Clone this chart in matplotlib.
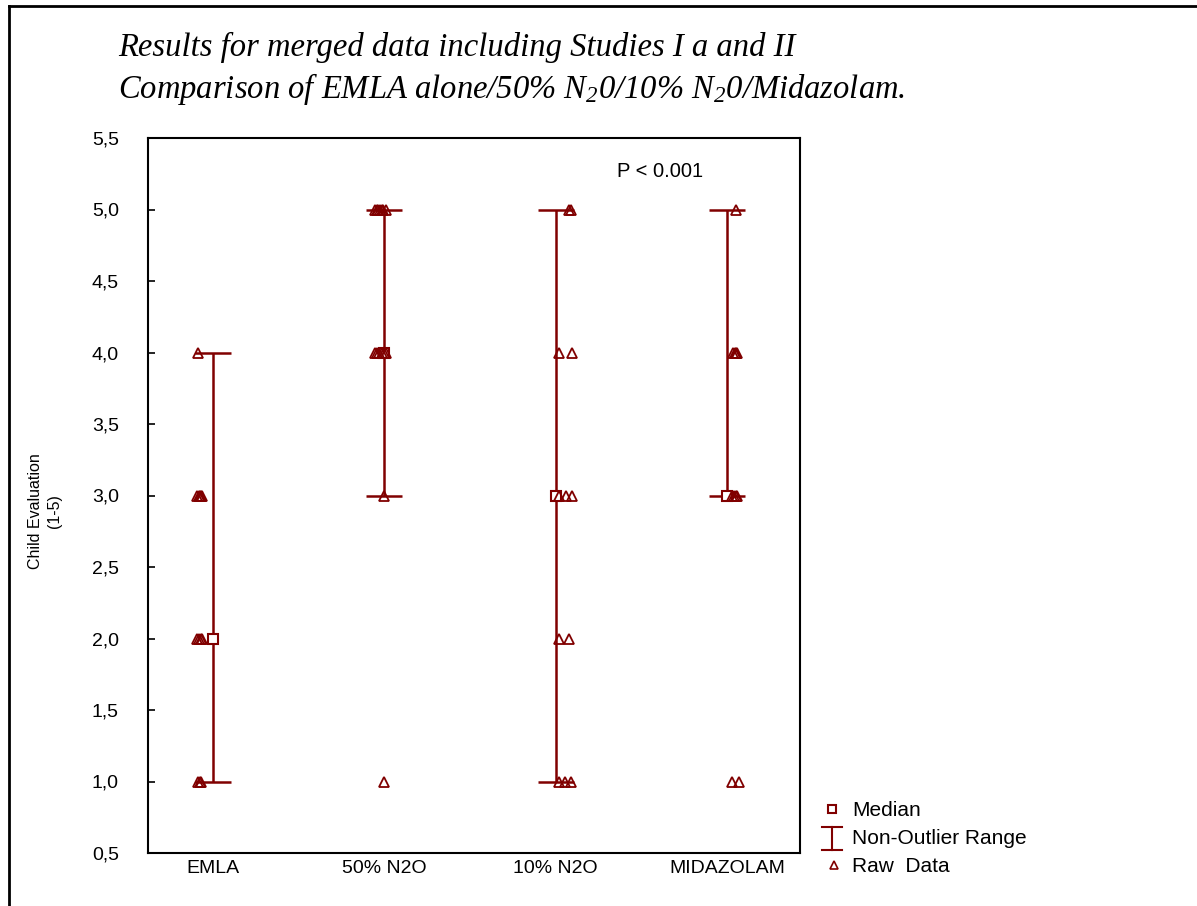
import matplotlib
matplotlib.use("Agg")
from matplotlib import pyplot as plt
from matplotlib.lines import Line2D

plt.rcParams["font.family"] = ["Liberation Sans", "DejaVu Sans"]
plt.rcParams["mathtext.fontset"] = "custom"
plt.rcParams["mathtext.rm"] = "Liberation Serif:italic"
plt.rcParams["mathtext.it"] = "Liberation Serif:italic"

groups = ["EMLA", "50% N2O", "10% N2O", "MIDAZOLAM"]
medians = [2.0, 4.0, 3.0, 3.0]
range_low = [1.0, 3.0, 1.0, 3.0]
range_high = [4.0, 5.0, 5.0, 5.0]

# raw scores per group, with the small sideways jitter seen in the picture
raw_emla = [4, 3, 3, 3, 3, 3, 2, 2, 2, 2, 1, 1, 1]
jit_emla = [-0.088, -0.092, -0.082, -0.075, -0.07, -0.065,
            -0.092, -0.08, -0.07, -0.064, -0.085, -0.075, -0.068]
raw_50 = [5, 5, 5, 5, 5, 5, 5, 4, 4, 4, 4, 4, 4, 3, 1]
jit_50 = [-0.055, -0.045, -0.035, -0.025, -0.015, -0.005, 0.01,
          -0.055, -0.045, -0.03, -0.015, 0.0, 0.01, 0.0, 0.0]
raw_10 = [5, 5, 4, 4, 3, 3, 3, 2, 2, 1, 1, 1]
jit_10 = [0.075, 0.09, 0.02, 0.095, 0.02, 0.06, 0.095, 0.02, 0.08,
          0.02, 0.055, 0.09]
raw_mid = [5, 4, 4, 4, 4, 3, 3, 3, 3, 1, 1]
jit_mid = [0.05, 0.035, 0.045, 0.055, 0.06, 0.03, 0.04, 0.05, 0.06,
           0.03, 0.07]

raw_values = [raw_emla, raw_50, raw_10, raw_mid]
raw_jitter = [jit_emla, jit_50, jit_10, jit_mid]

yticks = [0.5, 1.0, 1.5, 2.0, 2.5, 3.0, 3.5, 4.0, 4.5, 5.0, 5.5]

red = "#800000"
fs = 14
W, H = 1197, 906
fig = plt.figure(figsize=(W / 100, H / 100), dpi=100)
ax = fig.add_axes([148 / W, 1 - 853 / H, 652 / W, 715 / H])

xs = [1, 2, 3, 4]
cap = 0.105
ax.vlines(xs, range_low, range_high, color=red, lw=1.8)
ax.hlines(range_low, [x - cap for x in xs], [x + cap for x in xs], color=red, lw=1.8)
ax.hlines(range_high, [x - cap for x in xs], [x + cap for x in xs], color=red, lw=1.8)
ax.plot(xs, medians, ls="none", marker="s", ms=6.5, mfc="white", mec=red, mew=1.5)

for x, vals, jit in zip(xs, raw_values, raw_jitter):
    ax.plot([x + j for j in jit], vals, ls="none", marker="^", ms=6.5,
            mfc="none", mec=red, mew=1.3)

ax.set_xlim(0.6206, 4.426)
ax.set_ylim(0.5, 5.5)
ax.set_xticks(xs)
ax.set_xticklabels(groups, fontsize=fs)
ax.set_yticks(yticks)
ax.set_yticklabels([f"{t:.1f}".replace(".", ",") for t in yticks], fontsize=fs)
ax.tick_params(axis="x", length=0, pad=5)
ax.tick_params(axis="y", direction="in", length=5, width=1.2, pad=21)
for s in ax.spines.values():
    s.set_linewidth(1.5)

ax.text(3.36, 5.265, "P < 0.001", fontsize=14.5, va="center", ha="left")

fig.text(45 / W, 1 - 511 / H, "Child Evaluation\n(1-5)", rotation=90,
         fontsize=11.5, ha="center", va="center", linespacing=1.35)

tfont = dict(family="Liberation Serif", style="italic", fontsize=23.5)
fig.text(118 / W, 1 - 47 / H, "Results for merged data including Studies I a and II",
         va="center", ha="left", **tfont)
fig.text(118 / W, 1 - 89 / H,
         r"Comparison of EMLA alone/50% N$_2$0/10% N$_2$0/Midazolam.",
         va="center", ha="left", **tfont)

# legend drawn by hand
fig.add_artist(Line2D([832 / W], [1 - 809 / H], marker="s", ms=6, mfc="white",
                      mec=red, mew=1.5, ls="none"))
fig.add_artist(Line2D([832 / W, 832 / W], [1 - 827 / H, 1 - 850 / H], color=red, lw=1.5))
fig.add_artist(Line2D([822 / W, 842 / W], [1 - 827 / H, 1 - 827 / H], color=red, lw=1.5))
fig.add_artist(Line2D([822 / W, 842 / W], [1 - 850 / H, 1 - 850 / H], color=red, lw=1.5))
fig.add_artist(Line2D([834 / W], [1 - 865 / H], marker="^", ms=6, mfc="none",
                      mec=red, mew=1.2, ls="none"))
fig.text(852 / W, 1 - 810 / H, "Median", fontsize=15, va="center")
fig.text(852 / W, 1 - 838 / H, "Non-Outlier Range", fontsize=15, va="center")
fig.text(852 / W, 1 - 867 / H, "Raw  Data", fontsize=15, va="center")

# outer frame: top and left only
fig.add_artist(Line2D([8.5 / W, 1 - 0.5 / W], [1 - 6 / H, 1 - 6 / H], color="black", lw=2))
fig.add_artist(Line2D([8.5 / W, 8.5 / W], [1 - 6 / H, 0], color="black", lw=2))

fig.savefig("out.png", dpi=100)
